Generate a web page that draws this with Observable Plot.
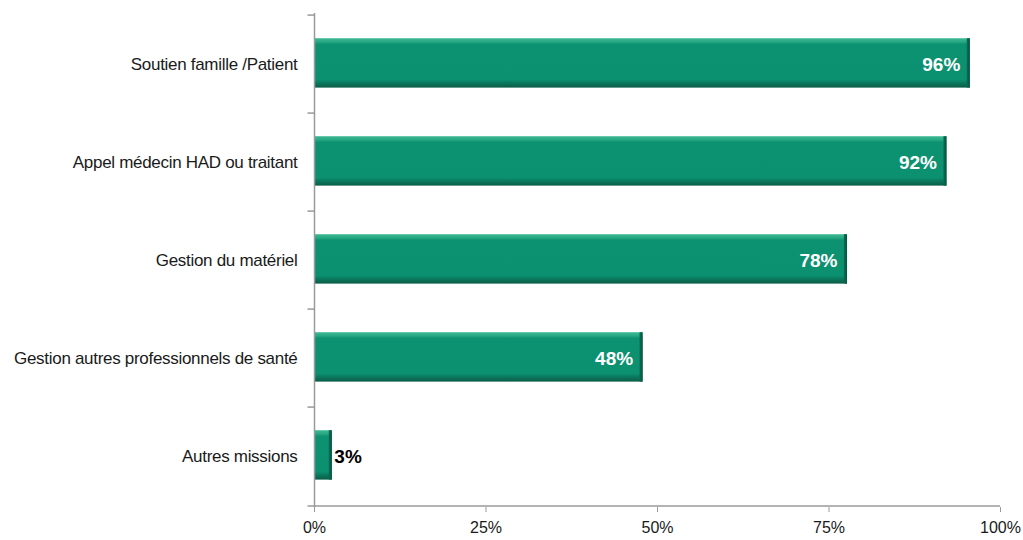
<!DOCTYPE html>
<html>
<head>
<meta charset="utf-8">
<script src="https://cdn.jsdelivr.net/npm/d3@7"></script>
<script src="https://cdn.jsdelivr.net/npm/@observablehq/plot@0.6"></script>
<style>
  html, body { margin: 0; padding: 0; background: #fff; }
  #chart { width: 1023px; height: 540px; }
  svg { font-family: "Liberation Sans", Arial, sans-serif; }
</style>
</head>
<body>
<div id="chart"></div>
<script>
const categories = [
  "Soutien famille /Patient",
  "Appel médecin HAD ou traitant",
  "Gestion du matériel",
  "Gestion autres professionnels de santé",
  "Autres missions"
];
const values = [95.6, 92.2, 77.7, 47.9, 2.6];
const labels = ["96%", "92%", "78%", "48%", "3%"];
const xTicks = [0, 25, 50, 75, 100];

const data = categories.map((c, i) => ({category: c, value: values[i], label: labels[i]}));

const W = 1023, H = 540, MT = 13, MB = 33, ML = 314, MR = 23;
const step = (H - MT - MB) / categories.length;
const last = categories[categories.length - 1];

const chart = Plot.plot({
  width: W,
  height: H,
  marginTop: MT,
  marginBottom: MB,
  marginLeft: ML,
  marginRight: MR,
  style: {fontFamily: "Liberation Sans, Arial, sans-serif", fontSize: "16px", color: "#1a1a1a", overflow: "visible"},
  x: {domain: [0, 100], label: null},
  y: {domain: categories, padding: 0, label: null},
  marks: [
    Plot.barX(data, {y: "category", x: "value", fill: "url(#barGrad)", insetTop: step * 0.235, insetBottom: step * 0.257}),
    Plot.barX(data, {y: "category", x1: d => Math.max(0, d.value - 0.45), x2: "value", fill: "url(#edgeGrad)", insetTop: step * 0.235, insetBottom: step * 0.257}),
    // Y axis line
    Plot.ruleX([0], {stroke: "#9a9a9a", strokeWidth: 1.5}),
    // Y boundary ticks
    Plot.ruleY(categories, {y: d => d, dy: -step / 2, x1: -0.95, x2: 0, stroke: "#9a9a9a", strokeWidth: 1.5}),
    // X axis line (with bottom y tick)
    Plot.ruleY([last], {y: d => d, dy: step / 2, x1: -0.95, x2: 100, stroke: "#9a9a9a", strokeWidth: 1.5}),
    Plot.axisX({ticks: xTicks, tickFormat: d => d + "%", tickSize: 5, tickPadding: 9, stroke: "#9a9a9a", fill: "#1a1a1a", fontSize: 16, anchor: "bottom", label: null}),
    Plot.axisY({tickSize: 0, tickPadding: 17, fill: "#1a1a1a", fontSize: 17, anchor: "left", label: null}),
    Plot.text(data.filter(d => d.value > 10), {y: "category", x: "value", text: "label", textAnchor: "end", dx: -10, fill: "white", fontWeight: "bold", fontSize: 19}),
    Plot.text(data.filter(d => d.value <= 10), {y: "category", x: "value", text: "label", textAnchor: "start", dx: 2, fill: "black", fontWeight: "bold", fontSize: 19})
  ]
});

const ns = "http://www.w3.org/2000/svg";
const defs = document.createElementNS(ns, "defs");
defs.innerHTML = `
  <linearGradient id="barGrad" x1="0" y1="0" x2="0" y2="1">
    <stop offset="0" stop-color="#3db894"/>
    <stop offset="0.07" stop-color="#2aa985"/>
    <stop offset="0.12" stop-color="#0d9271"/>
    <stop offset="0.84" stop-color="#0b9070"/>
    <stop offset="0.9" stop-color="#0a7a5e"/>
    <stop offset="1" stop-color="#0a5c46"/>
  </linearGradient>
  <linearGradient id="edgeGrad" x1="0" y1="0" x2="1" y2="0">
    <stop offset="0" stop-color="#0a6e54"/>
    <stop offset="1" stop-color="#09523f"/>
  </linearGradient>`;
chart.insertBefore(defs, chart.firstChild);
chart.querySelectorAll("g[aria-label='y-axis tick label'] text").forEach(t => t.setAttribute("letter-spacing", "-0.3"));
document.getElementById("chart").appendChild(chart);
</script>
</body>
</html>
